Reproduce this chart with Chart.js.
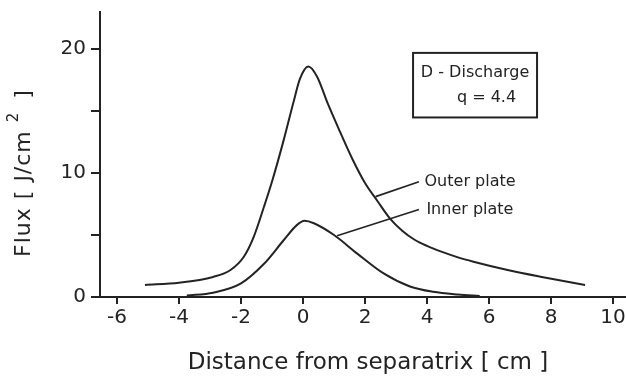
<!DOCTYPE html>
<html>
<head>
<meta charset="utf-8">
<script src="https://cdn.jsdelivr.net/npm/chart.js@4.4.1/dist/chart.umd.min.js"></script>
<style>
  html, body { margin: 0; padding: 0; background: #fff; }
  canvas { display: block; }
</style>
</head>
<body>
<canvas id="chart" width="626" height="377"></canvas>
<script>
// values
const outerX    = [-5.1, -4, -2.9, -2.34, -1.91, -1.59, -1.26, -0.99, -0.62, -0.3, -0.1, 0.17, 0.45, 0.8, 1.2, 1.6, 2.0, 2.4, 2.8, 3.2, 3.6, 4.0, 4.44, 5.0, 5.5, 6.6, 7.66, 9.1];
const outerFlux = [0.97, 1.15, 1.62, 2.18, 3.25, 4.86, 7.28, 9.4, 12.7, 15.8, 17.6, 18.6, 17.8, 15.6, 13.3, 11.1, 9.2, 7.75, 6.35, 5.35, 4.62, 4.12, 3.68, 3.2, 2.85, 2.18, 1.64, 0.97];
const innerX    = [-3.75, -2.9, -2.0, -1.25, -0.62, -0.2, 0.05, 0.35, 1.0, 1.75, 2.6, 3.45, 4.2, 5.0, 5.7];
const innerFlux = [0.12, 0.35, 1.1, 2.7, 4.6, 5.8, 6.15, 5.95, 5.0, 3.5, 1.9, 0.85, 0.42, 0.2, 0.08];

const seriesNames = ['Outer plate', 'Inner plate'];
const xTicks = [-6, -4, -2, 0, 2, 4, 6, 8, 10];
const yTicks = [0, 5, 10, 15, 20];
const yTickLabels = ['0', '', '10', '', '20'];
const boxTitle = 'D - Discharge';
const boxSub = 'q = 4.4';
const xTitle = 'Distance from separatrix [ cm ]';

const ink = '#232323';
const font = '"DejaVu Sans", sans-serif';

function pts(xs, ys) {
  return xs.map((v, i) => ({ x: v, y: ys[i] }));
}

// labels, leader lines, info box and axis titles
const annotations = {
  id: 'annotations',
  afterDatasetsDraw(chart) {
    const { ctx, chartArea, scales: { x, y } } = chart;
    const px = v => x.getPixelForValue(v);
    const py = v => y.getPixelForValue(v);
    ctx.save();
    ctx.strokeStyle = ink;
    ctx.fillStyle = ink;

    ctx.lineWidth = 1.6;
    [[2.34, 8.1, 3.74, 9.3], [1.10, 4.94, 3.74, 7.07]].forEach(l => {
      ctx.beginPath();
      ctx.moveTo(px(l[0]), py(l[1]));
      ctx.lineTo(px(l[2]), py(l[3]));
      ctx.stroke();
    });

    ctx.font = '16px ' + font;
    ctx.textBaseline = 'middle';
    ctx.textAlign = 'left';
    ctx.fillText(seriesNames[0], px(3.92), py(9.3));
    ctx.fillText(seriesNames[1], px(3.98), py(7.02));

    ctx.lineWidth = 2;
    ctx.strokeRect(px(3.55), py(19.7), px(7.55) - px(3.55), py(14.49) - py(19.7));
    ctx.textAlign = 'center';
    ctx.fillText(boxTitle, px(5.55), py(18.09));
    ctx.fillText(boxSub, px(5.92), py(16.05));

    // x title
    ctx.font = '23px ' + font;
    ctx.textBaseline = 'alphabetic';
    ctx.fillText(xTitle, chartArea.left + 268, chartArea.bottom + 72);

    // y title with superscript
    ctx.translate(30, chartArea.bottom - 124);
    ctx.rotate(-Math.PI / 2);
    ctx.letterSpacing = '1px';
    const a = 'Flux [ J/cm', b = '2', c = ' ]';
    ctx.font = '22px ' + font;
    const wa = ctx.measureText(a).width, wc = ctx.measureText(c).width;
    ctx.font = '15px ' + font;
    const wb = ctx.measureText(b).width;
    const g1 = 8, g2 = 5;
    let sx = -(wa + g1 + wb + g2 + wc) / 2;
    ctx.textAlign = 'left';
    ctx.font = '22px ' + font;
    ctx.fillText(a, sx, 0);
    ctx.font = '15px ' + font;
    ctx.fillText(b, sx + wa + g1, -12);
    ctx.font = '22px ' + font;
    ctx.fillText(c, sx + wa + g1 + wb + g2, 0);
    ctx.restore();
  }
};

const lineStyle = {
  borderColor: ink,
  borderWidth: 2,
  pointRadius: 0,
  fill: false,
  cubicInterpolationMode: 'monotone'
};

new Chart(document.getElementById('chart'), {
  type: 'line',
  data: {
    datasets: [
      Object.assign({ label: seriesNames[0], data: pts(outerX, outerFlux) }, lineStyle),
      Object.assign({ label: seriesNames[1], data: pts(innerX, innerFlux) }, lineStyle)
    ]
  },
  options: {
    responsive: false,
    animation: false,
    devicePixelRatio: 1,
    layout: { padding: { top: 12, right: 0, left: 0, bottom: 0 } },
    plugins: { legend: { display: false }, tooltip: { enabled: false } },
    scales: {
      x: {
        type: 'linear',
        min: -6.55,
        max: 10.42,
        border: { color: ink, width: 2 },
        grid: { drawOnChartArea: false, tickLength: 7, color: ink, lineWidth: 2 },
        ticks: { color: ink, font: { family: font, size: 20 }, padding: 2, maxRotation: 0 },
        afterBuildTicks: s => { s.ticks = xTicks.map(v => ({ value: v })); },
        afterFit: s => { s.height = 80; s.paddingLeft = 0; s.paddingRight = 0; }
      },
      y: {
        type: 'linear',
        min: 0,
        max: 23,
        border: { color: ink, width: 2 },
        grid: { drawOnChartArea: false, tickLength: 9, color: ink, lineWidth: 2 },
        ticks: {
          color: ink,
          font: { family: font, size: 20 },
          padding: 5,
          callback: v => yTickLabels[yTicks.indexOf(v)]
        },
        afterBuildTicks: s => { s.ticks = yTicks.map(v => ({ value: v })); },
        afterFit: s => { s.width = 100; s.paddingTop = 0; s.paddingBottom = 0; }
      }
    }
  },
  plugins: [annotations]
});
</script>
</body>
</html>
